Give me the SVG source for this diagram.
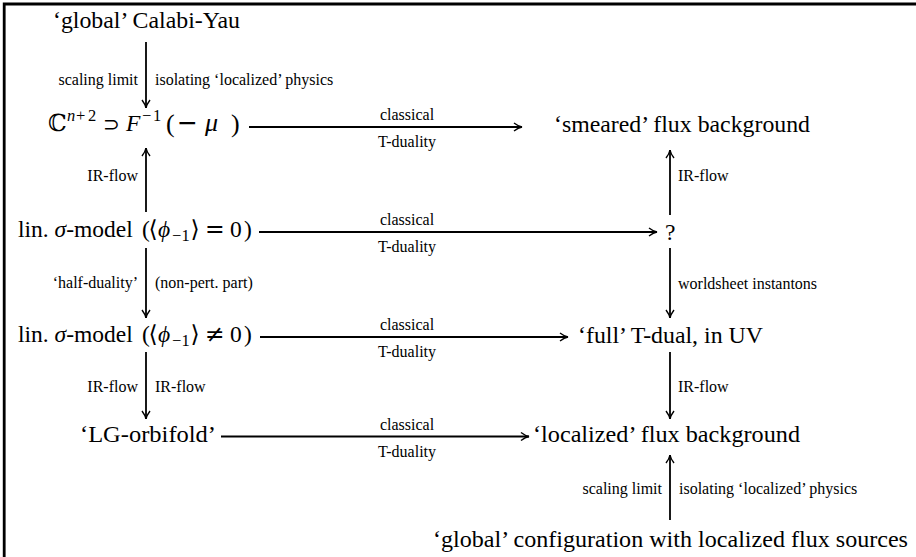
<svg xmlns="http://www.w3.org/2000/svg" width="916" height="557" viewBox="0 0 916 557">
<defs>
<style>
.m { font-family: 'Liberation Serif', 'Times New Roman', Times, 'DejaVu Serif', serif; font-size: 23.5px; fill: #000; }
.s { font-family: 'Liberation Serif', 'Times New Roman', Times, 'DejaVu Serif', serif; font-size: 16px; fill: #000; }
.it { font-style: italic; }
.sym { font-family: 'DejaVu Sans', sans-serif; }
.ds { font-family: 'DejaVu Serif', serif; }
.sup { font-size: 16.5px; }
.big { font-size: 26px; }
.e { text-anchor: end; }
.c { text-anchor: middle; }
.conn line { stroke: #000; stroke-width: 1.8; fill: none; marker-end: url(#ah); }
.frame { stroke: #000; stroke-width: 2.8; fill: none; }
</style>
<marker id="ah" markerUnits="userSpaceOnUse" markerWidth="12" markerHeight="12" viewBox="-10 -6 12 12" refX="0" refY="0" orient="auto" overflow="visible">
<path d="M-8,-4 Q-3.5,-0.6 0,0 Q-3.5,0.6 -8,4" fill="none" stroke="#000" stroke-width="1.4"/>
</marker>
</defs>
<rect width="916" height="557" fill="#fff"/>
<path class="frame" d="M4.2,557 V4 H916"/>

<g id="connectors" class="conn">
<line x1="146" y1="42" x2="146" y2="108"/>
<line x1="146" y1="212" x2="146" y2="148"/>
<line x1="146" y1="248" x2="146" y2="318"/>
<line x1="146" y1="352" x2="146" y2="419"/>
<line x1="249" y1="127" x2="522" y2="127"/>
<line x1="259" y1="232" x2="657" y2="232"/>
<line x1="260" y1="337" x2="568" y2="337"/>
<line x1="221" y1="436.5" x2="529" y2="436.5"/>
<line x1="670" y1="215" x2="670" y2="150"/>
<line x1="670" y1="248" x2="670" y2="318"/>
<line x1="670" y1="352" x2="670" y2="419"/>
<line x1="670" y1="520" x2="670" y2="455"/>
</g>

<g id="connector-labels">
<text class="s e" x="138" y="85">scaling limit</text>
<text class="s" x="155" y="85">isolating ‘localized’ physics</text>
<text class="s e" x="138" y="181">IR-flow</text>
<text class="s e" x="138" y="288">‘half-duality’</text>
<text class="s" x="155" y="288">(non-pert. part)</text>
<text class="s e" x="138" y="392">IR-flow</text>
<text class="s" x="155" y="392">IR-flow</text>
<text class="s" x="678" y="181">IR-flow</text>
<text class="s" x="678" y="289">worldsheet instantons</text>
<text class="s" x="678" y="392">IR-flow</text>
<text class="s e" x="662" y="494">scaling limit</text>
<text class="s" x="679" y="494">isolating ‘localized’ physics</text>
<text class="s c" x="407" y="120">classical</text>
<text class="s c" x="407" y="147">T-duality</text>
<text class="s c" x="407" y="225">classical</text>
<text class="s c" x="407" y="252">T-duality</text>
<text class="s c" x="407" y="330">classical</text>
<text class="s c" x="407" y="357">T-duality</text>
<text class="s c" x="407" y="429.5">classical</text>
<text class="s c" x="407" y="456.5">T-duality</text>
</g>

<g id="n-global-cy">
<text class="m" x="53" y="28" textLength="187" lengthAdjust="spacingAndGlyphs">‘global’ Calabi-Yau</text>
</g>

<g id="n-cone">
<text class="m" y="131"><tspan class="ds" x="48">ℂ</tspan><tspan class="sup it" x="67" y="121">n</tspan><tspan class="sup" x="76" y="121">+</tspan><tspan class="sup" x="88" y="121">2</tspan><tspan class="sym" x="103" y="131" font-size="20">⊃</tspan><tspan class="it" x="126" y="131">F</tspan><tspan class="sup" x="142" y="121">−</tspan><tspan class="sup" x="153" y="121">1</tspan><tspan class="big" x="166" y="132">(</tspan><tspan class="sym" x="177" y="131" font-size="25">−</tspan><tspan class="it big" x="205" y="131">μ</tspan><tspan class="big" x="231" y="132">)</tspan></text>
</g>

<g id="n-smeared">
<text class="m" x="554" y="132" textLength="256" lengthAdjust="spacingAndGlyphs">‘smeared’ flux background</text>
</g>

<g id="n-lsm-zero">
<text class="m" y="237"><tspan x="18">lin. </tspan><tspan class="it">σ</tspan><tspan>-model</tspan><tspan x="142">(</tspan><tspan class="sym" x="148.5">⟨</tspan><tspan class="it" x="158">ϕ</tspan><tspan class="sup" x="172" y="241">−</tspan><tspan class="sup" x="181.5" y="241">1</tspan><tspan class="sym" x="190.5" y="237">⟩</tspan><tspan class="sym" x="205">=</tspan><tspan x="230">0</tspan><tspan x="244">)</tspan></text>
</g>

<g id="n-question">
<text class="m" x="665" y="240">?</text>
</g>

<g id="n-lsm-nonzero">
<text class="m" y="342"><tspan x="18">lin. </tspan><tspan class="it">σ</tspan><tspan>-model</tspan><tspan x="142">(</tspan><tspan class="sym" x="148.5">⟨</tspan><tspan class="it" x="158">ϕ</tspan><tspan class="sup" x="172" y="346">−</tspan><tspan class="sup" x="181.5" y="346">1</tspan><tspan class="sym" x="190.5" y="342">⟩</tspan><tspan class="sym" x="205">≠</tspan><tspan x="230">0</tspan><tspan x="244">)</tspan></text>
</g>

<g id="n-full-tdual">
<text class="m" x="578" y="343" textLength="185" lengthAdjust="spacingAndGlyphs">‘full’ T-dual, in UV</text>
</g>

<g id="n-lg-orbifold">
<text class="m" x="80" y="442" textLength="136" lengthAdjust="spacingAndGlyphs">‘LG-orbifold’</text>
</g>

<g id="n-localized">
<text class="m" x="533" y="442" textLength="267" lengthAdjust="spacingAndGlyphs">‘localized’ flux background</text>
</g>

<g id="n-global-config">
<text class="m" x="433" y="547" textLength="475" lengthAdjust="spacingAndGlyphs">‘global’ configuration with localized flux sources</text>
</g>
</svg>
